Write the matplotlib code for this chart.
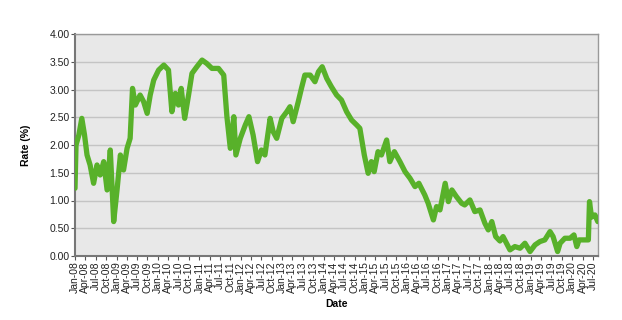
import matplotlib
matplotlib.use("Agg")
import matplotlib.pyplot as plt
import pandas as pd

plt.rcParams['font.family'] = ['Liberation Sans', 'DejaVu Sans']

dates = [
    "2008-01-01", "2008-01-10", "2008-02-04", "2008-03-01", "2008-03-25", "2008-04-16",
    "2008-05-13", "2008-06-13", "2008-07-13", "2008-08-10", "2008-09-10", "2008-10-10",
    "2008-11-07", "2008-12-07", "2009-01-07", "2009-02-04", "2009-03-04", "2009-04-04",
    "2009-05-01", "2009-05-22", "2009-06-16", "2009-07-28", "2009-08-28", "2009-09-28",
    "2009-10-25", "2009-11-25", "2010-01-07", "2010-02-22", "2010-04-04", "2010-05-04",
    "2010-06-04", "2010-07-01", "2010-07-25", "2010-08-25", "2010-09-28", "2010-10-28",
    "2010-12-10", "2011-01-25", "2011-03-07", "2011-04-22", "2011-06-19", "2011-08-04",
    "2011-09-01", "2011-10-01", "2011-11-01", "2011-11-19", "2011-12-28", "2012-02-10",
    "2012-03-13", "2012-04-19", "2012-05-28", "2012-07-01", "2012-08-01", "2012-09-16",
    "2012-10-13", "2012-11-13", "2012-12-28", "2013-02-10", "2013-03-10", "2013-04-07",
    "2013-05-22", "2013-06-19", "2013-07-19", "2013-09-04", "2013-10-16", "2013-11-16",
    "2013-12-19", "2014-01-28", "2014-03-10", "2014-04-25", "2014-06-07", "2014-07-22",
    "2014-09-04", "2014-10-19", "2014-11-16", "2014-12-25", "2015-01-28", "2015-02-25",
    "2015-03-22", "2015-04-25", "2015-05-25", "2015-07-10", "2015-08-07", "2015-09-16",
    "2015-11-04", "2015-12-19", "2016-02-01", "2016-03-16", "2016-04-19", "2016-06-10",
    "2016-07-10", "2016-08-25", "2016-09-22", "2016-10-22", "2016-12-07", "2017-01-04",
    "2017-02-04", "2017-03-16", "2017-05-01", "2017-05-28", "2017-07-13", "2017-08-25",
    "2017-10-10", "2017-11-22", "2017-12-22", "2018-01-22", "2018-02-25", "2018-04-04",
    "2018-05-01", "2018-07-01", "2018-08-13", "2018-09-28", "2018-11-10", "2018-12-25",
    "2019-02-07", "2019-03-22", "2019-05-04", "2019-06-19", "2019-07-16", "2019-08-25",
    "2019-09-16", "2019-10-28", "2019-12-13", "2020-01-16", "2020-02-10", "2020-03-01",
    "2020-05-22", "2020-06-01", "2020-06-19", "2020-07-19", "2020-08-13",
]
rates = [
    1.22, 2.00, 2.18, 2.48, 2.18, 1.82,
    1.64, 1.31, 1.64, 1.46, 1.70, 1.19,
    1.91, 0.62, 1.22, 1.82, 1.55, 1.94,
    2.12, 3.02, 2.72, 2.90, 2.78, 2.57,
    2.90, 3.17, 3.35, 3.44, 3.35, 2.60,
    2.93, 2.72, 3.02, 2.48, 2.90, 3.29,
    3.41, 3.53, 3.47, 3.38, 3.38, 3.26,
    2.51, 1.94, 2.51, 1.82, 2.12, 2.36,
    2.51, 2.18, 1.70, 1.91, 1.82, 2.48,
    2.24, 2.12, 2.48, 2.60, 2.69, 2.42,
    2.78, 3.02, 3.26, 3.26, 3.14, 3.32,
    3.41, 3.20, 3.05, 2.90, 2.81, 2.60,
    2.45, 2.36, 2.30, 1.82, 1.49, 1.70,
    1.52, 1.88, 1.82, 2.09, 1.70, 1.88,
    1.70, 1.52, 1.40, 1.25, 1.31, 1.10,
    0.95, 0.65, 0.89, 0.83, 1.31, 0.98,
    1.19, 1.07, 0.95, 0.92, 1.01, 0.80,
    0.83, 0.59, 0.47, 0.62, 0.35, 0.27,
    0.35, 0.11, 0.17, 0.14, 0.23, 0.08,
    0.20, 0.26, 0.29, 0.44, 0.35, 0.08,
    0.23, 0.32, 0.32, 0.38, 0.17, 0.29,
    0.29, 0.98, 0.70, 0.74, 0.62,
]
y_ticks = [0.0, 0.5, 1.0, 1.5, 2.0, 2.5, 3.0, 3.5, 4.0]
x_tick_dates = pd.date_range("2008-01-01", "2020-07-01", freq="QS")

x = pd.to_datetime(dates)

fig = plt.figure(figsize=(6.22, 3.20), dpi=100)
ax = fig.add_axes([75/622, 1-256/320, (598-75)/622, (256-34)/320])
ax.set_facecolor("#E8E8E8")
ax.plot(x, rates, color="#58B12A", lw=3.8, solid_joinstyle="round", solid_capstyle="round", zorder=3)

ax.set_ylim(0, 4)
ax.set_yticks(y_ticks)
ax.set_yticklabels([f"{v:.2f}" for v in y_ticks], fontsize=7.5, color="#222222")
ax.yaxis.grid(True, color="#C4C4C4", lw=1.0, zorder=1)
ax.set_axisbelow(True)

ax.set_xlim(pd.Timestamp("2008-01-01"), pd.Timestamp("2020-08-15"))
ax.set_xticks(x_tick_dates)
ax.set_xticklabels([d.strftime("%b-%y") for d in x_tick_dates], rotation=90, fontsize=7.5, color="#222222")
ax.tick_params(axis="both", direction="out", length=3, width=0.8, color="#555555", pad=1)

for side in ["left", "bottom"]:
    ax.spines[side].set_color("#777777")
    ax.spines[side].set_linewidth(1.5)
for side in ["top", "right"]:
    ax.spines[side].set_color("#999999")
    ax.spines[side].set_linewidth(1.0)

ax.set_ylabel("Rate (%)", fontsize=7.5, fontweight="bold", labelpad=13)
ax.set_xlabel("Date", fontsize=7.5, fontweight="bold", labelpad=4)

fig.savefig("out.png", dpi=100)
